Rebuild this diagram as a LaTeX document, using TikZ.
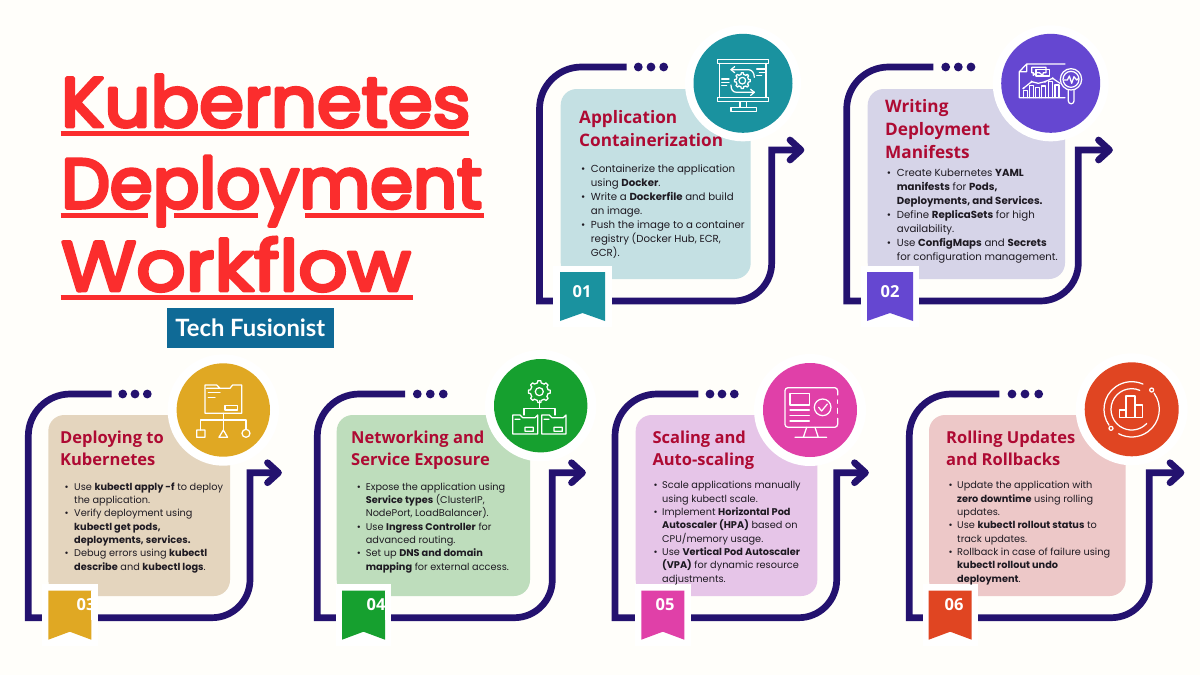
\documentclass[tikz,border=0pt]{standalone}
\usepackage{fontspec}
\setmainfont{Poppins}
\newfontfamily\bodyf{Poppins}
\newfontfamily\headf{Open Sans}
\newfontfamily\ttla[RawFeature={embolden=5;extend=1.03}]{Poppins}
\newfontfamily\ttlb[RawFeature={embolden=5;extend=0.985}]{Poppins}
\newfontfamily\ttlc[RawFeature={embolden=5;extend=1.10}]{Poppins}
\newfontfamily\tagf{Lato}
\definecolor{bg}{HTML}{FFFEFA}
\definecolor{navy}{HTML}{24126F}
\definecolor{crim}{HTML}{AE0A33}
\definecolor{ink}{HTML}{1E1A22}
\definecolor{ttl}{HTML}{FB2D2D}
\definecolor{tagc}{HTML}{0F6A96}
\definecolor{ca}{HTML}{1A929F}\definecolor{cb}{HTML}{6547D1}\definecolor{cc}{HTML}{E0A823}
\definecolor{cd}{HTML}{16A02F}\definecolor{ce}{HTML}{E040A8}\definecolor{cf}{HTML}{E04522}
\definecolor{la}{HTML}{C4E0E3}\definecolor{lb}{HTML}{D6D4E8}\definecolor{lc}{HTML}{E4D5BE}
\definecolor{ld}{HTML}{BEDDBC}\definecolor{le}{HTML}{E6C5E8}\definecolor{lf}{HTML}{EDC8C8}
\tikzset{
  frameline/.style={draw=navy,line width=6.7pt,miter limit=10},
  tipline/.style={draw=navy,line width=6.7pt,line cap=round,line join=round},
  ic/.style={draw=white,line width=1.25pt,line join=round,line cap=round},
  headtxt/.style={anchor=north west,inner sep=0pt,align=left,text=crim,font={\headf\bfseries\fontsize{17.2}{#1}\selectfont}},
  headlow/.style={anchor=north west,inner sep=0pt,align=left,text=crim,font={\headf\bfseries\fontsize{16.5}{22.4}\selectfont}},
  bodytxt/.style={anchor=north west,inner sep=0pt,align=left,text=ink,font={\bodyf\fontsize{#1}{14}\selectfont}},
  bodytxtb/.style={anchor=north west,inner sep=0pt,align=left,text=ink,font={\bodyf\fontsize{#1}{13.33}\selectfont}},
  numtxt/.style={text=white,inner sep=0pt,font={\headf\bfseries\fontsize{16.5}{18}\selectfont}},
  ttltxt/.style={anchor=base west,inner sep=0pt,text=ttl,font={#1\fontsize{70}{72}\selectfont}},
  under/.style={draw=ttl,line width=5.7pt},
}
\newcommand\hs{\rule{0pt}{16pt}}
\newcommand\bs{\rule{0pt}{12pt}}
\newcommand\bu[1]{\makebox[#1][l]{•}}
\newcommand\rj{\special{pdf:code 1 j 1 J}}
% left, top, topend, right, bottom, arrowy, tip, dots
\newcommand\pframe[8]{%
  \draw[frameline] (#3,#2) -- (#1+42,#2) arc[start angle=270,end angle=180,radius=42]
     -- (#1,#5) -- (#4-38,#5) arc[start angle=90,end angle=0,radius=38] -- (#4,#6) -- (#7-4,#6);
  \draw[tipline] (#7-15,#6-10) -- (#7-4,#6) -- (#7-15,#6+10);
  \foreach \d in {#8} \fill[navy] (\d,#2) circle (4.4);
}
% x0,y0,x1,y1,color
\newcommand\pcard[5]{\fill[#5,rounded corners=16pt] (#1,#2) rectangle (#3,#4);}
% cx,cy,r,halo,color
\newcommand\pcirc[5]{\fill[white] (#1,#2) circle (#4); \fill[#5] (#1,#2) circle (#3);}
% wx0,wx1,rx0,rx1,ytop,wtop,col
\newcommand\prib[7]{\fill[white] (#1,#6) rectangle (#2,#5+55);
  \fill[#7] (#3,#5) -- (#4,#5) -- (#4,#5+49) -- ({(#3+#4)/2},#5+41) -- (#3,#5+49) -- cycle;}
% gear: cx,cy,inner tooth radius,outer radius,hub radius
\newcommand\gearic[5]{%
  \foreach \a in {0,45,...,315}{\draw[ic] ({#1+#3*cos(\a-12)},{#2+#3*sin(\a-12)}) -- ({#1+#4*cos(\a-8)},{#2+#4*sin(\a-8)}) -- ({#1+#4*cos(\a+8)},{#2+#4*sin(\a+8)}) -- ({#1+#3*cos(\a+12)},{#2+#3*sin(\a+12)}) -- ({#1+#3*cos(\a+33)},{#2+#3*sin(\a+33)});}
  \draw[ic] (#1,#2) circle (#5);}
\begin{document}
\begin{tikzpicture}[x=1pt,y=-1pt]
\useasboundingbox (0,0) rectangle (1200,675);
\fill[bg] (0,0) rectangle (1200,675);
% ---------- title
\node[ttltxt=\ttla] (t1) at (61,126.7) {\rj Kubernetes};
\node[ttltxt=\ttlb] (t2) at (61,208) {\rj Deployment};
\node[ttltxt=\ttlc] (t3) at (61,290.7) {\rj Workflow};
\draw[under] (60.7,133.5) -- (469,133.5);
\draw[under] (60.7,215.5) -- (147.7,215.5) (174,215.5) -- (258,215.5) (305,215.5) -- (484,215.5);
\draw[under] (60.7,297.5) -- (412.7,297.5);
\node[fill=tagc,text=white,inner sep=0pt,minimum width=167.3pt,minimum height=39.7pt,font={\tagf\bfseries\fontsize{23.8}{24}\selectfont}] (tag) at (250.35,328.15) {Tech Fusionist};
% ---------- panel 1
\pframe{539.5}{67}{626.7}{771.7}{301}{150}{805}{638.3,651,663.7}
\pcard{560.7}{89}{750.7}{279}{la}
\pcirc{743}{83.3}{49.5}{58}{ca}
\begin{scope}[shift={(700,45)},x=.3333pt,y=-.3333pt]
 \draw[ic] (52,44) rectangle (205,55) (52,158) rectangle (205,170) (58,55) -- (58,158) (198,55) -- (198,158);
 \draw[ic] (120,170) -- (120,187) (140,170) -- (140,187) (93,187) rectangle (170,200);
 \gearic{127}{107}{19}{24}{10}
 \draw[ic] (93,74) -- (145,74) .. controls (156,74) and (163,84) .. (163,97);
 \draw[ic] (104,65) -- (93,74) -- (104,83);
 \draw[ic] (93,120) .. controls (93,133) and (98,142) .. (110,142) -- (163,142);
 \draw[ic] (152,133) -- (163,142) -- (152,151);
 \draw[ic] (65,102) -- (87,102) (65,112) -- (87,112) (65,122) -- (80,122);
 \draw[ic] (170,72) -- (195,72) (178,82) -- (195,82) (170,92) -- (185,92);
\end{scope}
\prib{553}{612}{560}{605}{272}{266}{ca}
\node[numtxt] (n1) at (582,292) {01};
\node[headtxt=23] (h1) at (579,107) {\hs Application\\Containerization};
\node[bodytxt=10.2] (b1) at (581,160.7) {\bs\bu{9.7pt}Containerize the application\\\hspace*{9.7pt}using \textbf{Docker}.\\\bu{9.7pt}Write a \textbf{Dockerfile} and build\\\hspace*{9.7pt}an image.\\\bu{9.7pt}Push the image to a container\\\hspace*{9.7pt}registry (Docker Hub, ECR,\\\hspace*{9.7pt}GCR).};
% ---------- panel 2
\pframe{846.7}{67}{933.3}{1078.3}{301}{150}{1113.5}{945.7,958.3,971}
\pcard{867.7}{89}{1065}{279}{lb}
\pcirc{1050.7}{83.3}{49.5}{58}{cb}
\begin{scope}[shift={(1010,50)},x=.3333pt,y=-.3333pt]
 \draw[ic] (165,42) -- (50,42) -- (28,65) -- (28,143) -- (165,143) (50,42) -- (50,65) -- (28,65);
 \draw[ic] (65,52) -- (108,52) -- (108,68) -- (100,68) -- (98,76) -- (88,68) -- (78,68) -- (70,76) -- (70,68) -- (65,68) -- cycle;
 \draw[ic] (78,58) rectangle (118,78);
 \draw[ic] (183,88) circle (32) (183,88) circle (24);
 \draw[ic] (163,90) -- (172,90) -- (178,78) -- (185,100) -- (192,80) -- (200,90) -- (206,85);
 \draw[ic] (175,120) -- (175,153) arc[start angle=180,end angle=0,radius=8.5] -- (192,120);
 \draw[ic] (40,115) -- (65,95) -- (85,100) -- (105,95) -- (128,85) -- (150,100);
 \foreach \q/\r in {40/122,58/106,77/112,95/108,115/95,135/105}{ \draw[ic] (\q,143) -- (\q,\r) -- (\q+12,\r) -- (\q+12,143);}
 \foreach \q/\r in {40/115,65/95,105/95,128/85}{ \fill[white] (\q,\r) circle (3.5);}
\end{scope}
\prib{860.7}{919}{867}{913}{272}{266}{cb}
\node[numtxt] (n2) at (890,292) {02};
\node[headtxt=22.8] (h2) at (885,96.7) {\hs Writing\\Deployment\\Manifests};
\node[bodytxt=10.2] (b2) at (886.7,164.7) {\bs\bu{10pt}Create Kubernetes \textbf{YAML}\\\hspace*{10pt}\textbf{manifests} for \textbf{Pods,}\\\hspace*{10pt}\textbf{Deployments, and Services.}\\\bu{10pt}Define \textbf{ReplicaSets} for high\\\hspace*{10pt}availability.\\\bu{10pt}Use \textbf{ConfigMaps} and \textbf{Secrets}\\\hspace*{10pt}for configuration management.};
% ---------- panel 3
\pframe{28.3}{394}{111.7}{250}{617.7}{472.7}{282.5}{122.7,135,147.3}
\pcard{48.3}{415}{230}{596}{lc}
\pcirc{223.3}{410}{46.7}{55.7}{cc}
\begin{scope}[shift={(10,350)},x=.3333pt,y=-.3333pt]
 \draw[ic] (585,190) -- (585,105) -- (620,105) -- (630,115) -- (660,115) -- (668,105) -- (695,105) -- (695,190) -- cycle (590,115) -- (630,115);
 \draw[ic] (595,127) -- (630,127) (595,143) -- (615,143) (645,167) rectangle (682,180);
 \draw[ic] (640,190) -- (640,240) (572,240) -- (572,210) -- (708,210) -- (708,238);
 \draw[ic] (560,240) rectangle (585,262) (640,240) -- (627,262) -- (653,262) -- cycle (708,250) circle (12);
\end{scope}
\prib{42.3}{97.7}{48.3}{91.3}{590.7}{584}{cc}
\node[numtxt] (n3) at (86,605) {03};
\fill[white] (91.3,590.7) rectangle (97.7,620);
\node[headlow] (h3) at (60,427.3) {\hs Deploying to\\Kubernetes};
\node[bodytxtb=9.75] (b3) at (64.3,478) {\bs\bu{9.7pt}Use \textbf{kubectl apply -f} to deploy\\\hspace*{9.7pt}the application.\\\bu{9.7pt}Verify deployment using\\\hspace*{9.7pt}\textbf{kubectl get pods,}\\\hspace*{9.7pt}\textbf{deployments, services.}\\\bu{9.7pt}Debug errors using \textbf{kubectl}\\\hspace*{9.7pt}\textbf{describe} and \textbf{kubectl logs}.};
% ---------- panel 4
\pframe{317.3}{394}{405}{552.3}{617.7}{472.7}{586.5}{417.3,430.3,443.3}
\pcard{336.7}{415}{530}{596}{ld}
\pcirc{540.7}{405.7}{46.7}{55.7}{cd}
\begin{scope}[shift={(300,350)},x=.3333pt,y=-.3333pt]
 \gearic{718}{125}{27}{33}{12}
 \draw[ic] (718,152) -- (718,175) (672,195) -- (672,175) -- (765,175) -- (765,195);
 \draw[ic] (638,252) -- (638,195) -- (660,195) -- (668,203) -- (705,203) -- (713,195) -- (713,252) -- cycle (675,232) rectangle (700,244) (645,208) -- (660,208);
 \draw[ic] (725,252) -- (725,195) -- (748,195) -- (756,203) -- (790,203) -- (798,195) -- (798,252) -- cycle (762,232) rectangle (787,244) (732,208) -- (747,208);
\end{scope}
\prib{335.7}{391.3}{342}{385}{590.7}{584}{cd}
\node[numtxt] (n4) at (376,605) {04};
\fill[white] (385,590.7) rectangle (391.3,620);
\node[headlow] (h4) at (351,427.3) {\hs Networking and\\Service Exposure};
\node[bodytxtb=9.75] (b4) at (356.7,478) {\bs\bu{9pt}Expose the application using\\\hspace*{9pt}\textbf{Service types} (ClusterIP,\\\hspace*{9pt}NodePort, LoadBalancer).\\\bu{9pt}Use \textbf{Ingress Controller} for\\\hspace*{9pt}advanced routing.\\\bu{9pt}Set up \textbf{DNS and domain}\\\hspace*{9pt}\textbf{mapping} for external access.};
% ---------- panel 5
\pframe{615}{394}{698.3}{836.7}{617.7}{472.7}{869.5}{710,722,734.3}
\pcard{635.7}{415}{817.3}{596}{le}
\pcirc{810}{410}{47}{56}{ce}
\begin{scope}[shift={(600,350)},x=.3333pt,y=-.3333pt]
 \draw[ic,rounded corners=3pt] (713,135) -- (713,113) -- (555,113) -- (555,232) -- (713,232) -- (713,205);
 \draw[ic] (713,150) -- (713,160) (713,175) -- (713,190);
 \draw[ic] (570,130) rectangle (628,165) (570,180) -- (628,180) (570,197) -- (628,197) (570,213) -- (628,213);
 \draw[ic] (668,172) circle (25) (656,172) -- (665,183) -- (682,162);
 \draw[ic] (620,232) -- (610,262) (645,232) -- (655,262) (585,262) -- (680,262);
\end{scope}
\prib{635}{690.7}{641.3}{684.3}{590.7}{584}{ce}
\node[numtxt] (n5) at (665,605) {05};
\node[headlow] (h5) at (652.3,427.3) {\hs Scaling and\\Auto-scaling};
\node[bodytxtb=9.75] (b5) at (653.3,476.7) {\bs\bu{8.7pt}Scale applications manually\\\hspace*{8.7pt}using kubectl scale.\\\bu{8.7pt}Implement \textbf{Horizontal Pod}\\\hspace*{8.7pt}\textbf{Autoscaler (HPA)} based on\\\hspace*{8.7pt}CPU/memory usage.\\\bu{8.7pt}Use \textbf{Vertical Pod Autoscaler}\\\hspace*{8.7pt}\textbf{(VPA)} for dynamic resource\\\hspace*{8.7pt}adjustments.};
% ---------- panel 6
\pframe{909.3}{394}{999.3}{1149.3}{617.7}{472.7}{1185}{1012,1025,1038.7}
\pcard{929}{415}{1125.7}{596}{lf}
\pcirc{1131.7}{409.3}{47}{56}{cf}
\begin{scope}[shift={(1090,370)},x=.3333pt,y=-.3333pt]
 \draw[ic] (125,118) ++(145:83) arc[start angle=145,end angle=294,radius=83];
 \draw[ic] (125,118) ++(-36:83) arc[start angle=-36,end angle=118,radius=83];
 \draw[ic] (185,60) circle (6) (63,175) circle (6);
 \draw[ic] (125,118) ++(293:62) arc[start angle=293,end angle=43,radius=62];
 \draw[ic] (88,142) rectangle (108,120) (108,142) rectangle (135,78) (135,142) rectangle (157,105);
\end{scope}
\prib{922.7}{977.7}{928.7}{971.7}{590.7}{584}{cf}
\node[numtxt] (n6) at (954,605) {06};
\node[headlow] (h6) at (946,427.3) {\hs Rolling Updates\\and Rollbacks};
\node[bodytxtb=9.75] (b6) at (948.3,476.7) {\bs\bu{8.7pt}Update the application with\\\hspace*{8.7pt}\textbf{zero downtime} using rolling\\\hspace*{8.7pt}updates.\\\bu{8.7pt}Use \textbf{kubectl rollout status} to\\\hspace*{8.7pt}track updates.\\\bu{8.7pt}Rollback in case of failure using\\\hspace*{8.7pt}\textbf{kubectl rollout undo}\\\hspace*{8.7pt}\textbf{deployment}.};
\end{tikzpicture}
\end{document}
